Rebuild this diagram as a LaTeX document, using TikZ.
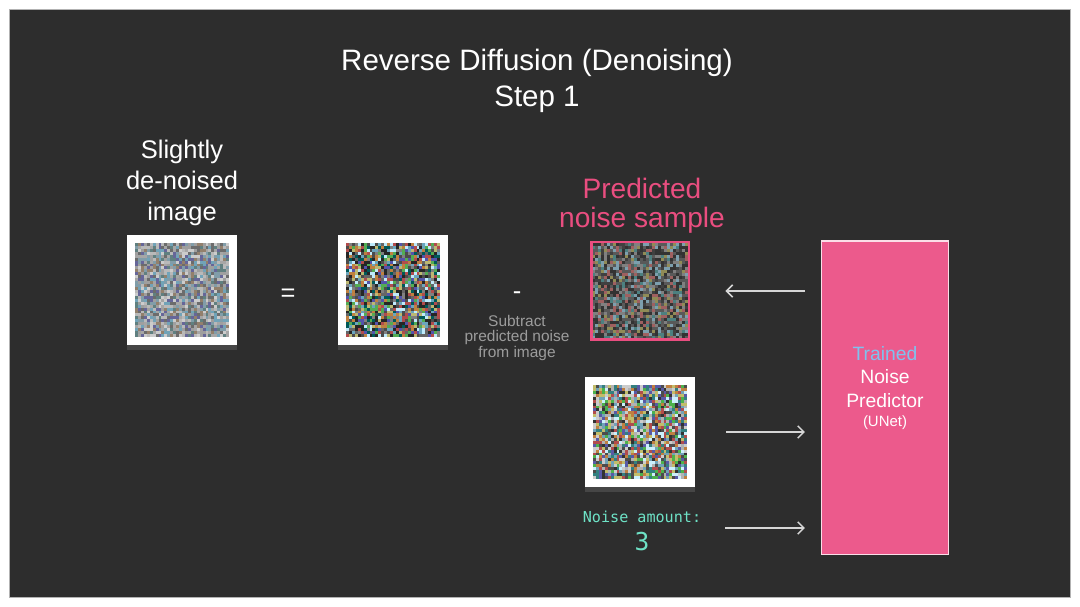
\documentclass[tikz,border=0pt]{standalone}
\usepackage{fontspec}
\setmainfont{Liberation Sans}
\newfontfamily\amountfont{DejaVu Sans Mono}
\usetikzlibrary{arrows.meta, positioning, calc, shadows}
\definecolor{slatebg}{HTML}{2D2D2D}
\definecolor{unetpink}{HTML}{EC5A8C}
\definecolor{predpink}{HTML}{E94E80}
\definecolor{trainblue}{HTML}{7FC2EE}
\definecolor{amountgreen}{HTML}{6EE2C6}
\definecolor{arrowgray}{HTML}{D6D6D6}
\definecolor{subgray}{HTML}{9C9C9C}

% colour sets for the noise squares
\pgfmathdeclarerandomlist{softnoise}{{gray!70}{gray!55}{cyan!25!gray}{blue!20!gray}{brown!30!gray}{gray!85!black}{white!60!gray}{teal!25!gray}{gray!60!cyan}{gray!75}}
\pgfmathdeclarerandomlist{rawnoise}{{black!85}{black!70}{cyan!45!gray}{teal!70!black}{orange!50!gray}{red!40!gray}{green!35!gray}{gray}{white!75!cyan}{yellow!40!gray}{blue!35!gray}{black!85}{black!60}}
\pgfmathdeclarerandomlist{darknoise}{{black!80}{black!65}{gray!70!black}{teal!40!gray}{red!25!gray}{gray}{cyan!30!gray}{olive!40!gray}{black!80}{gray!50!black}}
\pgfmathdeclarerandomlist{brightnoise}{{black!80}{cyan!40!gray}{teal!60!gray}{white!80!cyan}{orange!50!gray}{red!40!gray}{green!40!gray}{blue!30!gray}{gray!60}{yellow!45!gray}{black!70}{white!60!gray}}

% fill a node with random squares: node, colour set, half width (px)
\newcommand{\noisefill}[3]{%
  \begin{scope}[shift={(#1.center)}]
    \foreach \i in {0,...,31}{\foreach \j in {0,...,31}{
      \pgfmathrandomitem{\cellcol}{#2}
      \fill[\cellcol] ({-#3+\i*#3/16},{-#3+\j*#3/16}) rectangle ++({#3/16+0.2},{#3/16+0.2});
    }}
  \end{scope}}

\begin{document}
\begin{tikzpicture}[
  x=0.02cm, y=-0.02cm,
  frame/.style={fill=white, minimum size=2.2cm, inner sep=0pt, drop shadow={opacity=0.3, shadow xshift=0pt, shadow yshift=-0.1cm}},
  predframe/.style={draw=predpink, line width=1.7pt, minimum size=1.96cm, inner sep=0pt},
  unetbox/.style={fill=unetpink, draw=white!80!unetpink, line width=0.6pt, minimum width=2.54cm, minimum height=6.28cm, inner sep=0pt},
  label/.style={text=white, align=center, inner sep=0pt},
  arr/.style={draw=arrowgray, line width=0.9pt, -{Straight Barb[length=3.5pt, width=7pt]}}
]
  \useasboundingbox (0,0) rectangle (1080,607);
  \fill[white] (0,0) rectangle (1080,607);
  \draw[gray!60, fill=slatebg] (9,9) rectangle (1070,597);
  \pgfmathsetseed{7}

  \node[label, font=\fontsize{16.8}{20.4}\selectfont] (title) at (537,81) {Reverse Diffusion (Denoising)\\Step 1};

  % images
  \node[frame] (denoised) at (182,290) {};
  \node[frame] (noisy) at (393,290) {};
  \node[predframe] (pred) at (640,291) {};
  \node[frame] (noisyin) at (640,432) {};
  \noisefill{denoised}{softnoise}{47}
  \noisefill{noisy}{rawnoise}{47}
  \noisefill{pred}{darknoise}{48}
  \noisefill{noisyin}{brightnoise}{47}
  \node[predframe] at (pred.center) {};

  \node[label, font=\fontsize{14.5}{17.6}\selectfont] (outlabel) at (182,183) {Slightly\\de-noised\\image};
  \node[label, font=\fontsize{14.5}{17.6}\selectfont] (eq) at (288,295) {=};
  \node[label, font=\fontsize{14.5}{17.6}\selectfont] (minus) at (517,296) {-};
  \node[label, text=subgray, font=\fontsize{8.8}{8.9}\selectfont] (subnote) at (517,338) {Subtract\\predicted noise\\from image};
  \node[label, text=predpink, font=\fontsize{16}{16.5}\selectfont] (predlabel) at (642,206) {Predicted\\noise sample};
  \node[label, text=amountgreen, font=\amountfont\fontsize{8.6}{10}\selectfont] (amountlabel) at (642,517) {Noise amount:};
  \node[label, text=amountgreen, font=\amountfont\fontsize{14}{16}\selectfont] (amountval) at (642,542) {3};

  % noise predictor
  \node[unetbox] (unet) at (885,398) {};
  \node[label, font=\fontsize{11}{13.6}\selectfont] (unettext) at (885,377) {\textcolor{trainblue}{Trained}\\Noise\\Predictor};
  \node[label, font=\fontsize{8.5}{10}\selectfont, below=0.14cm of unettext] (unetname) {(UNet)};

  % arrows
  \coordinate (amountout) at (725,528);
  \draw[arr, shorten <=0.32cm, shorten >=0.7cm] (unet.west |- pred.east) -- (pred.east);
  \draw[arr, shorten <=0.62cm, shorten >=0.32cm] (noisyin.east) -- (noisyin.east -| unet.west);
  \draw[arr, shorten >=0.32cm] (amountout) -- (amountout -| unet.west);
\end{tikzpicture}
\end{document}
